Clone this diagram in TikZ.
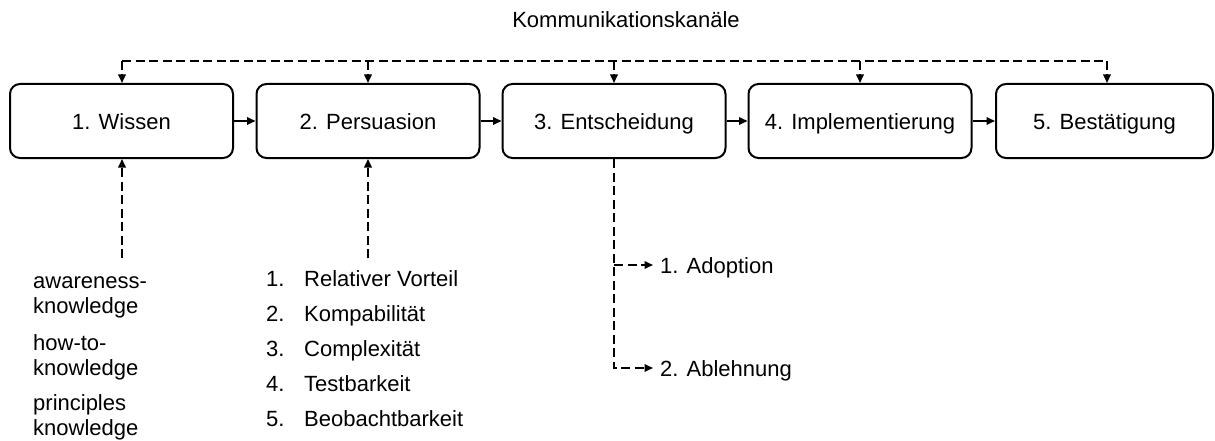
\documentclass[tikz,border=0pt]{standalone}
\usepackage{fontspec}
\setmainfont{Liberation Sans}
\usetikzlibrary{arrows.meta}
\begin{document}
\begin{tikzpicture}[x=1pt,y=-1pt,
  txt/.style={font=\fontsize{22}{25}\selectfont, inner sep=0pt, text height=16pt, text depth=0pt},
  stage/.style={txt, draw, line width=2pt, rounded corners=10pt, minimum width=223pt, minimum height=74pt},
  note/.style={font=\fontsize{22}{25}\selectfont, inner sep=0pt, align=left, anchor=north west},
  tip/.style={-{Triangle[length=8.5pt,width=7.5pt]}},
  flow/.style={tip, line width=1.8pt},
  dashline/.style={line width=1.8pt, dash pattern=on 9pt off 4.5pt},
]
\useasboundingbox (0,0) rectangle (1215,441);

% the five stages
\node[stage] (b1) at (121.5,121) {1. Wissen};
\node[stage] (b2) at (368,121) {2. Persuasion};
\node[stage] (b3) at (614,121) {3. Entscheidung};
\node[stage] (b4) at (860,121) {4. Implementierung};
\node[stage, minimum width=217pt] (b5) at (1104.5,121) {5. Bestätigung};

\draw[flow] (b1.east) -- (b2.west);
\draw[flow] (b2.east) -- (b3.west);
\draw[flow] (b3.east) -- (b4.west);
\draw[flow] (b4.east) -- (b5.west);

% communication channels feeding every stage
\node[txt] (kanal) at (626,20) {Kommunikationskanäle};
\coordinate (c1) at (122,61);
\coordinate (c2) at (368,61);
\coordinate (c3) at (614,61);
\coordinate (c4) at (860,61);
\coordinate (c5) at (1107,61);
\draw[dashline] (c1) -- (c5);
\foreach \i in {1,...,5}
  \draw[dashline, tip] (c\i) -- (c\i |- b\i.north);

% kinds of knowledge
\coordinate (k1) at (122,258);
\draw[dashline, tip] (k1) -- (k1 |- b1.south);
\node[note] (w1) at (33,270.5) {\strut awareness-\\\strut knowledge};
\node[note] (w2) at (33,332.5) {\strut how-to-\\\strut knowledge};
\node[note] (w3) at (33,392.5) {\strut principles\\\strut knowledge};

% attributes of the innovation
\coordinate (k2) at (368,258);
\draw[dashline, tip] (k2) -- (k2 |- b2.south);
\node[txt, anchor=west] (n1) at (266,278) {1.};
\node[txt, anchor=west] (p1) at (304,278) {Relativer Vorteil};
\node[txt, anchor=west] (n2) at (266,313) {2.};
\node[txt, anchor=west] (p2) at (304,313) {Kompabilität};
\node[txt, anchor=west] (n3) at (266,348) {3.};
\node[txt, anchor=west] (p3) at (304,348) {Complexität};
\node[txt, anchor=west] (n4) at (266,383) {4.};
\node[txt, anchor=west] (p4) at (304,383) {Testbarkeit};
\node[txt, anchor=west] (n5) at (266,418) {5.};
\node[txt, anchor=west] (p5) at (304,418) {Beobachtbarkeit};

% outcomes of the decision
\node[txt, anchor=west] (ad) at (660,265) {1. Adoption};
\node[txt, anchor=west] (ab) at (660,368) {2. Ablehnung};
\draw[dashline, tip] (b3.south) |- ([xshift=-7pt]ab.west);
\draw[dashline, tip] (b3.south |- ad.west) -- ([xshift=-7pt]ad.west);
\end{tikzpicture}
\end{document}
